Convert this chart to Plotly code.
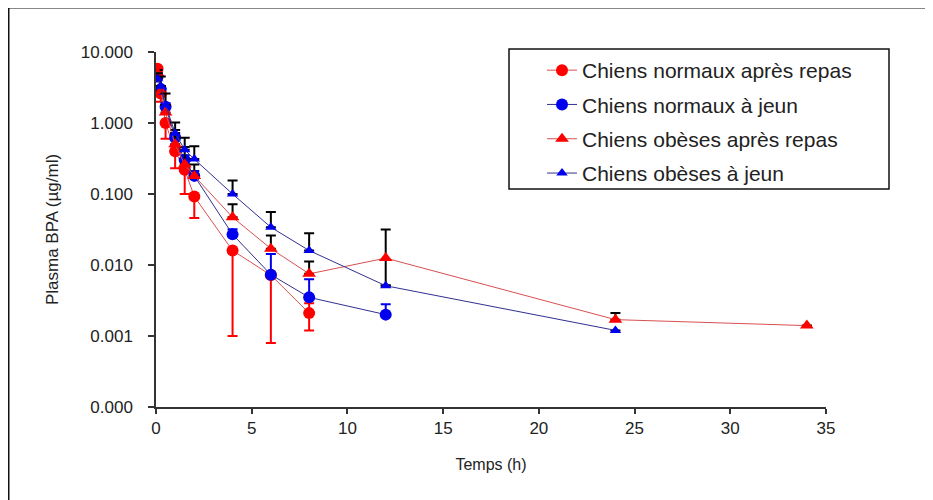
import plotly.graph_objects as go

# ---- data ----
t_nf = [0.083, 0.25, 0.5, 1, 1.5, 2, 4, 6, 8]
y_nf = [5.8, 2.6, 1.0, 0.40, 0.22, 0.092, 0.016, 0.0072, 0.0021]
ep_nf = [0, 0, 0, 0, 0, 0, 0, 0, 0.0008]
em_nf = [0.8, 0.6, 0.4, 0.17, 0.12, 0.046, 0.015, 0.0064, 0.0009]

t_nj = [0.083, 0.25, 0.5, 1, 1.5, 2, 4, 6, 8, 12]
y_nj = [4.5, 3.0, 1.7, 0.62, 0.30, 0.18, 0.027, 0.0073, 0.0035, 0.0020]
ep_nj = [0.4, 0.3, 0.2, 0.1, 0.05, 0.03, 0.005, 0.007, 0.0028, 0.0008]

t_of = [0.083, 0.25, 0.5, 1, 1.5, 2, 4, 6, 8, 12, 24, 34]
y_of = [5.0, 2.8, 1.4, 0.50, 0.26, 0.18, 0.047, 0.017, 0.0075, 0.0125, 0.0017, 0.0014]
ep_of = [0.6, 0.5, 0.4, 0.3, 0.2, 0.08, 0.025, 0.009, 0.0037, 0.019, 0.0004, 0]
em_of = [0, 0, 0, 0, 0, 0, 0, 0, 0, 0.0073, 0, 0]

t_oj = [0.083, 0.25, 0.5, 1, 1.5, 2, 4, 6, 8, 12, 24]
y_oj = [4.2, 3.3, 1.8, 0.72, 0.42, 0.31, 0.10, 0.034, 0.016, 0.0051, 0.0012]
ep_oj = [0.8, 1.2, 0.8, 0.3, 0.2, 0.16, 0.055, 0.022, 0.012, 0, 0]

names = ["Chiens normaux après repas", "Chiens normaux à jeun",
         "Chiens obèses après repas", "Chiens obèses à jeun"]

x_ticks = [0, 5, 10, 15, 20, 25, 30, 35]
y_ticks = [10, 1, 0.1, 0.01, 0.001, 0.0001]
y_tick_text = ["10.000", "1.000", "0.100", "0.010", "0.001", "0.000"]

RED = "#ff0000"
BLUE = "#0000ee"
RED_LINE = "#d85050"
BLUE_LINE = "#303090"
FONT = "Liberation Sans, Arial, sans-serif"

fig = go.Figure()

def add(t, y, ep, em, name, symbol, mcolor, lcolor, ecolor, size, grp):
    fig.add_trace(go.Scatter(
        x=t, y=y, name=name, mode="lines+markers",
        legendgroup=grp,
        line=dict(color=lcolor, width=1),
        marker=dict(symbol=symbol, size=size, color=mcolor, line=dict(width=0)),
        error_y=dict(type="data", symmetric=False, array=ep, arrayminus=em,
                     color=ecolor, thickness=2, width=5),
    ))

add(t_nf, y_nf, ep_nf, em_nf, names[0], "circle", RED, RED_LINE, RED, 12, "a")
add(t_nj, y_nj, ep_nj, [0] * len(t_nj), names[1], "circle", BLUE, BLUE_LINE, BLUE, 12, "b")
add(t_of, y_of, ep_of, em_of, names[2], "triangle-up", RED, RED_LINE, "#000000", 12, "c")
add(t_oj, y_oj, ep_oj, [0] * len(t_oj), names[3], "triangle-up", BLUE, BLUE_LINE, "#000000", 10, "d")

# page has an 8px body margin: screen px = figure px + 8
OFF = 8
L, T, W, H = 156 - OFF, 52 - OFF, 670, 354.7

def px_x(p):  # screen px -> paper x
    return (p - OFF - L) / W

def px_y(p):  # screen px -> paper y
    return 1 - (p - OFF - T) / H

fig.update_layout(
    width=933, height=500,
    margin=dict(l=L, r=933 - L - W, t=T, b=500 - T - H, autoexpand=False),
    paper_bgcolor="white", plot_bgcolor="white",
    font=dict(family=FONT, color="#222222"),
    showlegend=True,
    legend=dict(
        x=px_x(542), y=px_y(50), xanchor="left", yanchor="top",
        font=dict(family=FONT, size=21, color="#222222"),
        bgcolor="rgba(0,0,0,0)", borderwidth=0,
        traceorder="grouped", tracegroupgap=4,
        itemwidth=30,
    ),
    xaxis=dict(
        range=[0, 35], tickvals=x_ticks, ticks="outside", ticklen=5,
        tickcolor="#333333", tickwidth=1.5,
        showline=True, linecolor="#333333", linewidth=1.5,
        showgrid=False, zeroline=False,
        tickfont=dict(family=FONT, size=17, color="#222222"),
        title=dict(text="Temps (h)", font=dict(family=FONT, size=16, color="#222222"), standoff=22),
    ),
    yaxis=dict(
        type="log", range=[-4, 1], tickvals=y_ticks, ticktext=y_tick_text,
        ticks="outside", ticklen=6, tickcolor="#333333", tickwidth=1.5,
        showline=True, linecolor="#333333", linewidth=1.5,
        showgrid=False, zeroline=False,
        tickfont=dict(family=FONT, size=17, color="#222222"),
        ticklabelstandoff=12,
        title=dict(text="Plasma BPA (µg/ml)", font=dict(family=FONT, size=17, color="#222222"), standoff=18),
    ),
    shapes=[
        dict(type="rect", xref="paper", yref="paper",
             x0=px_x(509), x1=px_x(889), y0=px_y(189), y1=px_y(49),
             line=dict(color="#111111", width=1.5), fillcolor="rgba(0,0,0,0)", layer="above"),
        # outer frame: left and top edges
        dict(type="line", xref="paper", yref="paper",
             x0=px_x(8.5), x1=px_x(8.5), y0=px_y(520), y1=px_y(7),
             line=dict(color="#111111", width=2), layer="above"),
        dict(type="line", xref="paper", yref="paper",
             x0=px_x(8.5), x1=px_x(950), y0=px_y(7.5), y1=px_y(7.5),
             line=dict(color="#111111", width=2), layer="above"),
    ],
)

fig.write_html("out.html")
